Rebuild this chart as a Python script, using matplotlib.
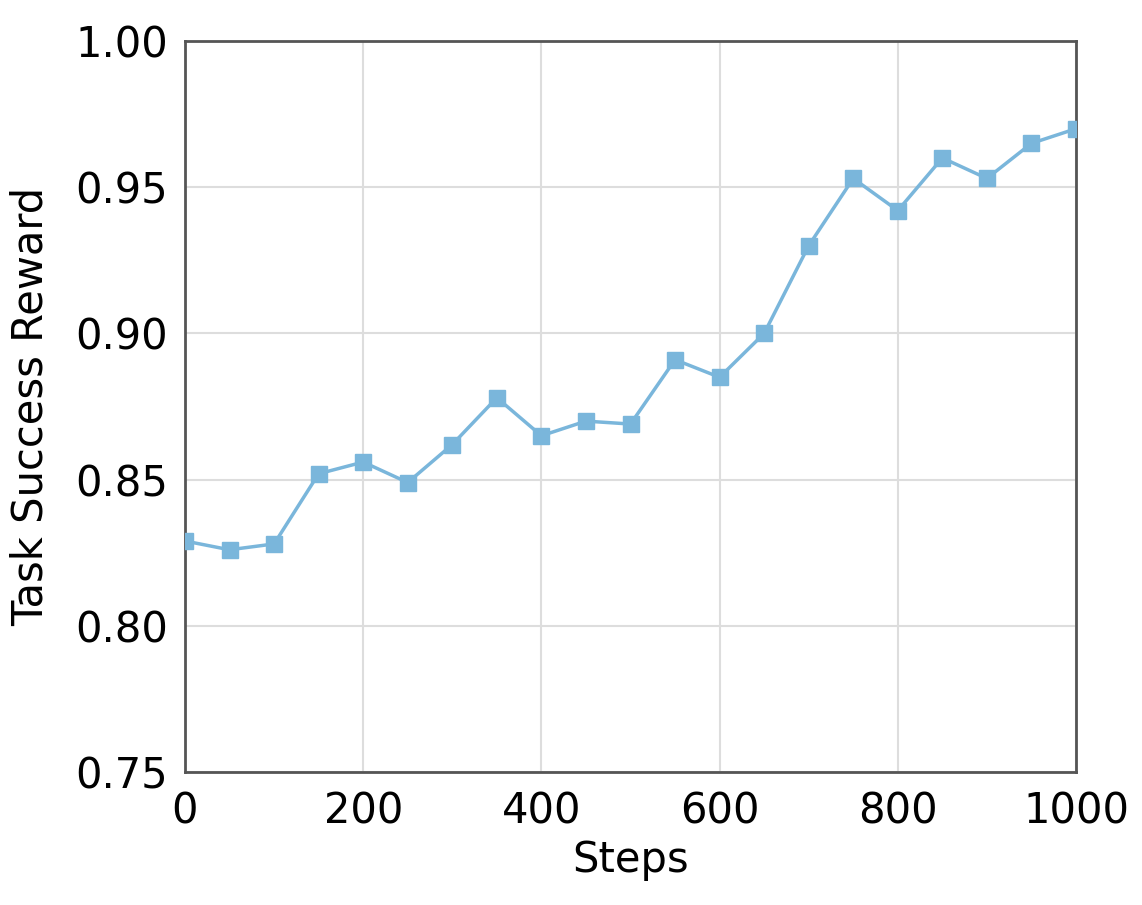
import numpy as np
import matplotlib
matplotlib.use("Agg")
from matplotlib import pyplot as plt

steps = [0, 50, 100, 150, 200, 250, 300, 350, 400, 450, 500,
         550, 600, 650, 700, 750, 800, 850, 900, 950, 1000]
reward = [0.829, 0.826, 0.828, 0.852, 0.856, 0.849, 0.862, 0.878, 0.865, 0.870, 0.869,
          0.891, 0.885, 0.900, 0.930, 0.953, 0.942, 0.960, 0.953, 0.965, 0.970]

fig = plt.figure(figsize=(11.42, 9.05), dpi=100)
ax = fig.add_axes([185 / 1142, 1 - 772 / 905, (1076 - 185) / 1142, (772 - 41) / 905])

ax.plot(steps, reward, color='#7ab6db', lw=2.5, marker='s', markersize=11, zorder=3)

ax.set_xlim(0, 1000)
ax.set_ylim(0.75, 1.00)
ax.set_xticks([0, 200, 400, 600, 800, 1000])
ax.set_yticks([0.75, 0.80, 0.85, 0.90, 0.95, 1.00])
ax.grid(True, color='#dddddd', lw=1.5)
ax.set_axisbelow(True)
for s in ax.spines.values():
    s.set_color('#555555')
    s.set_linewidth(2)
ax.tick_params(axis='y', labelsize=30, length=0, pad=12)
ax.tick_params(axis='x', labelsize=30, length=0, pad=13)
ax.set_xlabel('Steps', fontsize=30, labelpad=5)
ax.set_ylabel('Task Success Reward', fontsize=30, labelpad=17)

fig.savefig('out.png', dpi=100)
